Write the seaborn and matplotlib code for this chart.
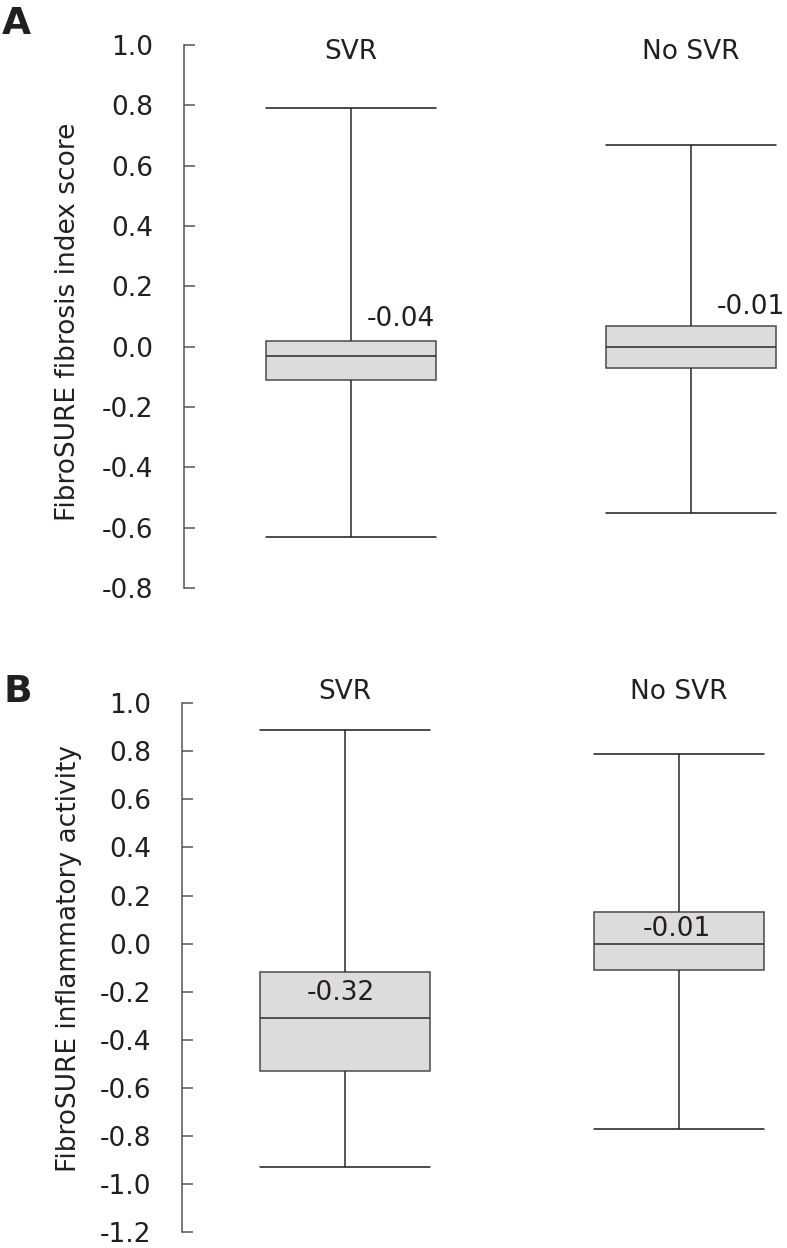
import pandas as pd
import matplotlib
matplotlib.use("Agg")
import matplotlib.pyplot as plt
import seaborn as sns

sns.set_style("white")
plt.rcParams["font.family"] = ["DejaVu Sans"]

groups = ["SVR", "No SVR"]

# Panel A - fibrosis index (min, Q1, median, Q3, max per group)
fib_min = [-0.63, -0.55]
fib_q1 = [-0.11, -0.07]
fib_med = [-0.03, 0.00]
fib_q3 = [0.02, 0.07]
fib_max = [0.79, 0.67]
fib_text = ["-0.04", "-0.01"]

# Panel B - inflammatory activity
inf_min = [-0.93, -0.77]
inf_q1 = [-0.53, -0.11]
inf_med = [-0.31, 0.00]
inf_q3 = [-0.12, 0.13]
inf_max = [0.89, 0.79]
inf_text = ["-0.32", "-0.01"]

TXT = "#231f20"
FS = 19


def long_table(mins, q1s, meds, q3s, maxs):
    rows = []
    for g, a, b, c, d, e in zip(groups, mins, q1s, meds, q3s, maxs):
        for v in (a, b, c, d, e):
            rows.append({"group": g, "value": v})
    return pd.DataFrame(rows)


def draw_panel(ax, df, width, ylim, ticks, ylabel, label_xy, text_pos, texts,
               head_y, xlim):
    sns.boxplot(data=df, x="group", y="value", order=groups, ax=ax,
                whis=(0, 100), width=width, color="#dcdcdc", fill=True,
                linecolor="#3a3a3a", linewidth=1.1, capwidths=width,
                boxprops=dict(facecolor="#dcdcdc", edgecolor="#4a4a4a"),
                medianprops=dict(color="#2a2a2a"),
                whiskerprops=dict(color="#2a2a2a"),
                capprops=dict(color="#1a1a1a"))
    ax.set_xlim(*xlim)
    ax.set_ylim(*ylim)
    ax.set_yticks(ticks)
    ax.set_yticklabels([f"{t:.1f}" for t in ticks], color=TXT, fontsize=FS)
    ax.tick_params(axis="y", direction="in", length=8, width=1.1,
                   color="#555555", pad=22, left=True)
    ax.set_xticks([])
    ax.set_xlabel("")
    ax.set_ylabel(ylabel, fontsize=FS, color=TXT)
    ax.yaxis.set_label_coords(*label_xy)
    for s in ("top", "right", "bottom"):
        ax.spines[s].set_visible(False)
    ax.spines["left"].set_color("#555555")
    ax.spines["left"].set_linewidth(1.1)
    for i, g in enumerate(groups):
        ax.text(i, head_y, g, ha="center", va="center", fontsize=FS,
                color=TXT, clip_on=False)
        tx, ty = text_pos[i]
        ax.text(i + tx, ty, texts[i], ha="center", va="center", fontsize=FS,
                color=TXT, clip_on=False)


fig = plt.figure(figsize=(7.87, 12.48), dpi=100)

axA = fig.add_axes([184 / 787, 1 - 588 / 1248, 603 / 787, 543 / 1248])
draw_panel(axA, long_table(fib_min, fib_q1, fib_med, fib_q3, fib_max),
           0.5, (-0.8, 1.0), [1.0, 0.8, 0.6, 0.4, 0.2, 0.0, -0.2, -0.4, -0.6, -0.8],
           "FibroSURE fibrosis index score", (-0.170, 0.49),
           [(0.147, 0.092), (0.176, 0.130)], fib_text, 0.977, (-0.491, 1.282))

axB = fig.add_axes([182 / 787, 1 - 1232 / 1248, 605 / 787, 528.7 / 1248])
draw_panel(axB, long_table(inf_min, inf_q1, inf_med, inf_q3, inf_max),
           0.51, (-1.2, 1.0),
           [1.0, 0.8, 0.6, 0.4, 0.2, 0.0, -0.2, -0.4, -0.6, -0.8, -1.0, -1.2],
           "FibroSURE inflammatory activity", (-0.165, 0.518),
           [(-0.011, -0.207), (-0.005, 0.062)], inf_text, 1.045, (-0.487, 1.324))

fig.text(0.002, 1 - 24 / 1248, "A", fontsize=27, fontweight="bold",
         color=TXT, ha="left", va="center")
fig.text(0.004, 1 - 692 / 1248, "B", fontsize=27, fontweight="bold",
         color=TXT, ha="left", va="center")

fig.savefig("out.png", dpi=100)
